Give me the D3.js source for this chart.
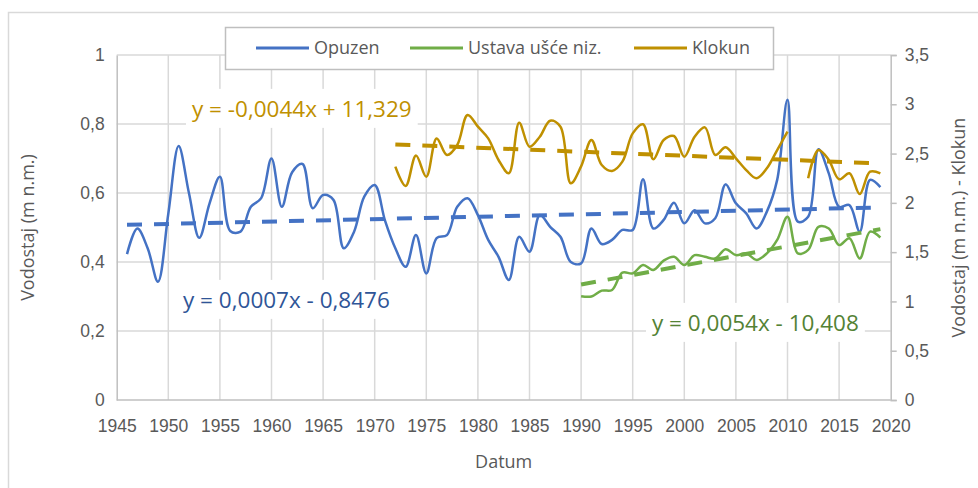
<!DOCTYPE html>
<meta charset="utf-8">
<head>
<style>
  body { margin: 0; background: #fff; }
  svg { font-family: "Open Sans", sans-serif; }
  .tick text { fill: #595959; font-size: 17.5px; }
  .title { fill: #595959; font-size: 18px; }
  .legend text { fill: #595959; font-size: 18px; }
  .eq { font-size: 22.5px; }
</style>
</head>
<body>
<svg id="chart"></svg>
<script src="https://d3js.org/d3.v7.min.js"></script>
<script>
// ---- data ----
var opuzenYears = d3.range(1946, 2020);
var opuzen = [0.423, 0.497, 0.44, 0.343, 0.54, 0.736, 0.60, 0.47, 0.57, 0.647,
  0.49, 0.488, 0.56, 0.585, 0.70, 0.56, 0.66, 0.684, 0.556, 0.594,
  0.58, 0.44, 0.488, 0.59, 0.623, 0.52, 0.44, 0.386, 0.478, 0.367,
  0.469, 0.478, 0.56, 0.585, 0.536, 0.464, 0.415, 0.348, 0.473, 0.43,
  0.536, 0.502, 0.473, 0.40, 0.396, 0.497, 0.452, 0.464, 0.493, 0.493,
  0.64, 0.497, 0.522, 0.572, 0.512, 0.55, 0.512, 0.527, 0.625, 0.57,
  0.541, 0.497, 0.546, 0.638, 0.87, 0.517, 0.531, 0.727, 0.657, 0.56,
  0.565, 0.488, 0.638, 0.617];

var ustavaYears = d3.range(1990, 2020);
var ustava = [0.301, 0.30, 0.317, 0.319, 0.369, 0.367, 0.391, 0.377, 0.404, 0.415,
  0.391, 0.42, 0.415, 0.41, 0.437, 0.42, 0.425, 0.406, 0.425, 0.464,
  0.531, 0.425, 0.435, 0.502, 0.497, 0.449, 0.469, 0.41, 0.488, 0.471];

var klokunYears = d3.range(1972, 2020);
var klokun = [2.367, 2.171, 2.48, 2.265, 2.654, 2.486, 2.587, 2.891, 2.773, 2.654,
  2.435, 2.30, 2.813, 2.57, 2.671, 2.833, 2.773, 2.198, 2.37, 2.638,
  2.384, 2.323, 2.418, 2.705, 2.797, 2.442, 2.638, 2.678, 2.469, 2.671,
  2.766, 2.486, 2.563, 2.452, 2.333, 2.249, 2.35, 2.536, 2.722, null,
  2.249, 2.536, 2.435, 2.239, 2.30, 2.09, 2.316, 2.30];

var seriesNames = ["Opuzen", "Ustava ušće niz.", "Klokun"];
var equations = ["y = 0,0007x - 0,8476", "y = 0,0054x - 10,408", "y = -0,0044x + 11,329"];
var xTicks = d3.range(1945, 2021, 5);
var leftTicks = [0, 0.2, 0.4, 0.6, 0.8, 1];
var rightTicks = [0, 0.5, 1, 1.5, 2, 2.5, 3, 3.5];

// ---- setup ----
var W = 978, H = 488;
var colors = ["#4472C4", "#70AD47", "#BF9000"];
var eqColors = ["#2F5597", "#548235", "#BF9000"];

var svg = d3.select("#chart").attr("width", W).attr("height", H);

var x = d3.scaleLinear().domain([1945, 2020]).range([116.7, 890.7]);
var yL = d3.scaleLinear().domain([0, 1]).range([400, 55]);
var yR = d3.scaleLinear().domain([0, 3.5]).range([400, 55]);

var loc = d3.formatLocale({decimal: ",", thousands: ".", grouping: [3], currency: ["", ""]});
var fmt = loc.format("~g");

// outer chart border
svg.append("rect").attr("x", 8.5).attr("y", 12.5).attr("width", 1000).attr("height", 500)
  .attr("fill", "none").attr("stroke", "#D9D9D9").attr("stroke-width", 1.5);

// gridlines
svg.append("g").selectAll("line").data(leftTicks.slice(1)).join("line")
  .attr("x1", x(1945)).attr("x2", x(2020))
  .attr("y1", function(d) { return yL(d); }).attr("y2", function(d) { return yL(d); })
  .attr("stroke", "#D9D9D9").attr("stroke-width", 1.5);
svg.append("g").selectAll("line").data(xTicks.slice(1, -1)).join("line")
  .attr("x1", function(d) { return x(d); }).attr("x2", function(d) { return x(d); })
  .attr("y1", yL(0)).attr("y2", yL(1))
  .attr("stroke", "#D9D9D9").attr("stroke-width", 1.5);

// axes
var gx = svg.append("g").attr("transform", "translate(0," + yL(0) + ")")
  .call(d3.axisBottom(x).tickValues(xTicks).tickFormat(d3.format("d")).tickSize(0).tickPadding(20));
var gl = svg.append("g").attr("transform", "translate(" + x(1945) + ",0)")
  .call(d3.axisLeft(yL).tickValues(leftTicks).tickFormat(fmt).tickSize(0).tickPadding(12));
var gr = svg.append("g").attr("transform", "translate(" + x(2020) + ",0)")
  .call(d3.axisRight(yR).tickValues(rightTicks).tickFormat(fmt).tickSize(6).tickPadding(8));
[gx, gl, gr].forEach(function(g) {
  g.select(".domain").attr("stroke", "#BFBFBF").attr("stroke-width", 1.5);
  g.selectAll(".tick line").attr("stroke", "#BFBFBF").attr("stroke-width", 1.5);
  g.selectAll(".tick text").attr("font-family", null).attr("font-size", null);
});
gx.select(".domain").attr("d", "M" + x(1945) + ",0H" + x(2020));

// axis titles
svg.append("text").attr("class", "title").attr("x", x(1982.5)).attr("y", 468)
  .attr("text-anchor", "middle").text("Datum");
svg.append("text").attr("class", "title").attr("text-anchor", "middle")
  .attr("transform", "translate(34," + yL(0.5) + ") rotate(-90)").text("Vodostaj (m n.m.)");
svg.append("text").attr("class", "title").attr("text-anchor", "middle")
  .attr("transform", "translate(965," + yL(0.5) + ") rotate(-90)").text("Vodostaj (m n.m.) - Klokun");

// build series
function pts(years, vals) {
  return years.map(function(y, i) { return {x: y, v: vals[i]}; });
}
var series = [
  {data: pts(opuzenYears, opuzen), y: yL},
  {data: pts(ustavaYears, ustava), y: yL},
  {data: pts(klokunYears, klokun), y: yR}
];

// least squares trend, like Excel's linear trendline
function trend(data) {
  var d = data.filter(function(p) { return p.v != null; });
  var mx = d3.mean(d, function(p) { return p.x; }), my = d3.mean(d, function(p) { return p.v; });
  var sxy = d3.sum(d, function(p) { return (p.x - mx) * (p.v - my); });
  var sxx = d3.sum(d, function(p) { return (p.x - mx) * (p.x - mx); });
  var b = sxy / sxx, a = my - b * mx;
  var x0 = d[0].x, x1 = d[d.length - 1].x;
  return [{x: x0, v: a + b * x0}, {x: x1, v: a + b * x1}];
}

// equation labels with white boxes
var eqPos = [[183, 300], [652, 323], [192, 109]];
equations.forEach(function(t, i) {
  var g = svg.append("g");
  var txt = g.append("text").attr("class", "eq").attr("x", eqPos[i][0]).attr("y", eqPos[i][1])
    .attr("dy", "0.35em").attr("fill", eqColors[i]).text(t);
  var bb = txt.node().getBBox();
  g.insert("rect", "text").attr("x", bb.x - 6).attr("y", bb.y - 4)
    .attr("width", bb.width + 12).attr("height", bb.height + 8).attr("fill", "#fff");
});

series.forEach(function(s, i) {
  var line = d3.line()
    .defined(function(p) { return p.v != null; })
    .x(function(p) { return x(p.x); })
    .y(function(p) { return s.y(p.v); })
    .curve(d3.curveCatmullRom.alpha(0.5));
  svg.append("path").datum(s.data).attr("d", line)
    .attr("fill", "none").attr("stroke", colors[i]).attr("stroke-width", 2.5);
});

series.forEach(function(s, i) {
  var tl = d3.line().x(function(p) { return x(p.x); }).y(function(p) { return s.y(p.v); });
  svg.append("path").datum(trend(s.data)).attr("d", tl)
    .attr("fill", "none").attr("stroke", colors[i]).attr("stroke-width", 4)
    .attr("stroke-dasharray", "15,12");
});

// legend
var lg = svg.append("g").attr("class", "legend");
lg.append("rect").attr("x", 225.5).attr("y", 27.5).attr("width", 548).attr("height", 42)
  .attr("fill", "#fff").attr("stroke", "#BFBFBF").attr("stroke-width", 1.5);
var lgX = [256, 410, 634];
seriesNames.forEach(function(n, i) {
  lg.append("line").attr("x1", lgX[i]).attr("x2", lgX[i] + 53).attr("y1", 48).attr("y2", 48)
    .attr("stroke", colors[i]).attr("stroke-width", 3);
  lg.append("text").attr("x", lgX[i] + 58).attr("y", 48).attr("dy", "0.35em").text(n);
});
</script>
</body>
